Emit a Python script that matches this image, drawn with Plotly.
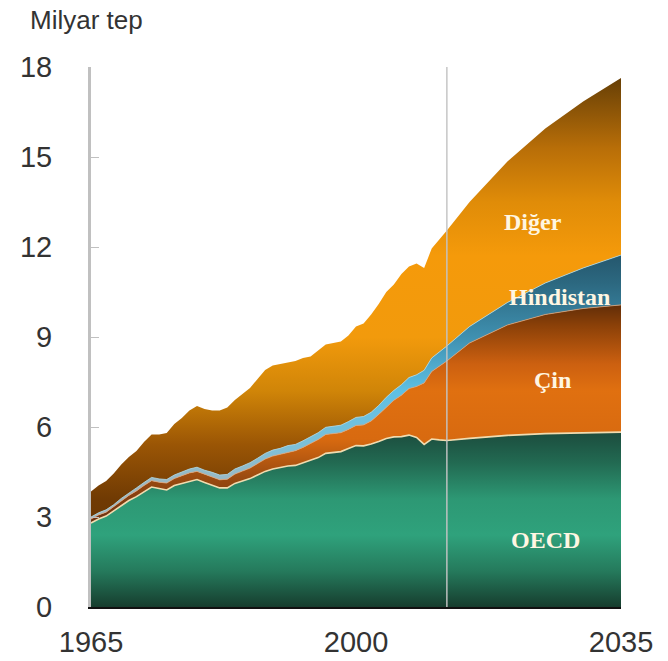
import plotly.graph_objects as go

# ---------------- data (Milyar tep) ----------------
years = list(range(1965, 2013)) + [2015, 2020, 2025, 2030, 2035]

oecd = [2.80, 2.93, 3.03, 3.20, 3.38, 3.55, 3.68, 3.85, 4.00, 3.95,
        3.90, 4.05, 4.12, 4.20, 4.25, 4.15, 4.07, 3.97, 3.97, 4.12,
        4.20, 4.28, 4.40, 4.52, 4.60, 4.65, 4.70, 4.72, 4.80, 4.90,
        4.98, 5.12, 5.15, 5.18, 5.28, 5.38, 5.37, 5.43, 5.52, 5.62,
        5.67, 5.68, 5.73, 5.65, 5.42, 5.60, 5.57, 5.55,
        5.62, 5.72, 5.78, 5.81, 5.83]

cin = [0.13, 0.14, 0.13, 0.13, 0.15, 0.17, 0.19, 0.20, 0.21, 0.21,
       0.23, 0.23, 0.25, 0.27, 0.27, 0.27, 0.27, 0.27, 0.29, 0.31,
       0.33, 0.35, 0.38, 0.41, 0.43, 0.44, 0.47, 0.49, 0.52, 0.56,
       0.60, 0.63, 0.63, 0.63, 0.64, 0.67, 0.70, 0.77, 0.90, 1.05,
       1.22, 1.38, 1.55, 1.70, 2.05, 2.25, 2.45, 2.65,
       3.18, 3.68, 3.97, 4.14, 4.24]

hindistan = [0.07, 0.07, 0.08, 0.08, 0.09, 0.09, 0.10, 0.10, 0.11, 0.11,
             0.12, 0.12, 0.13, 0.13, 0.14, 0.14, 0.15, 0.16, 0.16, 0.17,
             0.17, 0.18, 0.18, 0.19, 0.20, 0.20, 0.21, 0.21, 0.22, 0.22,
             0.23, 0.24, 0.25, 0.25, 0.26, 0.27, 0.28, 0.29, 0.30, 0.32,
             0.33, 0.35, 0.37, 0.39, 0.42, 0.45, 0.48, 0.50,
             0.55, 0.75, 1.05, 1.35, 1.66]

dunya_toplam = [3.85, 4.05, 4.20, 4.45, 4.75, 5.00, 5.20, 5.50, 5.75, 5.75,
                5.80, 6.10, 6.30, 6.55, 6.70, 6.60, 6.55, 6.55, 6.65, 6.90,
                7.10, 7.30, 7.60, 7.90, 8.05, 8.10, 8.15, 8.20, 8.30, 8.35,
                8.55, 8.75, 8.80, 8.85, 9.05, 9.35, 9.45, 9.75, 10.10, 10.50,
                10.75, 11.10, 11.35, 11.45, 11.30, 11.95, 12.25, 12.55,
                13.50, 14.85, 15.95, 16.85, 17.63]

diger = [round(t - o - c - h, 3) for t, o, c, h in zip(dunya_toplam, oecd, cin, hindistan)]

y_ticks = [0, 3, 6, 9, 12, 15, 18]
x_ticks = [1965, 2000, 2035]
ayrim_yili = 2012

# ---------------- figure ----------------
fig = go.Figure()

def grad(stops):
    return dict(type="vertical", start=0, stop=18,
                colorscale=[[round(y / 18, 4), c] for y, c in stops])

fig.add_trace(go.Scatter(
    x=years, y=oecd, stackgroup="s", mode="lines",
    line=dict(color="#f0dcb0", width=1.6),
    fillgradient=grad([(0, "#163d2e"), (1.2, "#257a5c"), (2.4, "#2fa27c"),
                       (3.6, "#2d9874"), (4.8, "#226a52"), (5.9, "#1b4a3c"), (18, "#1b4a3c")]),
    hoverinfo="skip"))

fig.add_trace(go.Scatter(
    x=years, y=cin, stackgroup="s", mode="lines",
    line=dict(color="#e0a070", width=0.8),
    fillgradient=grad([(0, "#6a3010"), (2.8, "#6a3010"), (4.3, "#9a4a10"),
                       (5.6, "#d86a10"), (7.2, "#e07010"), (8.1, "#cc6010"),
                       (9.4, "#8a4008"), (10.2, "#5a2a08"), (18, "#5a2a08")]),
    hoverinfo="skip"))

fig.add_trace(go.Scatter(
    x=years, y=hindistan, stackgroup="s", mode="lines",
    line=dict(color="#a8d8e8", width=0.8),
    fillgradient=grad([(0, "#a0b8c0"), (4.0, "#a0b8c0"), (5.4, "#7cc0d8"),
                       (7.2, "#5ec0e4"), (9.0, "#3f90b0"), (10.8, "#2c6880"),
                       (11.8, "#24566c"), (18, "#24566c")]),
    hoverinfo="skip"))

fig.add_trace(go.Scatter(
    x=years, y=diger, stackgroup="s", mode="lines",
    line=dict(color="rgba(0,0,0,0)", width=0),
    fillgradient=grad([(0, "#5a3003"), (3.6, "#703a03"), (5.4, "#9a5505"),
                       (7.2, "#d08508"), (9.0, "#f29a0c"), (11.7, "#f59a0a"),
                       (13.5, "#e08c08"), (15.3, "#b86e08"), (18, "#5a3806")]),
    hoverinfo="skip"))

# vertical separator between history and projection
fig.add_shape(type="line", x0=ayrim_yili, x1=ayrim_yili, y0=0, y1=18,
              xref="x", yref="y", layer="above",
              line=dict(color="rgba(195,195,195,0.9)", width=1.6))

label_font = dict(family="Liberation Serif, Times New Roman, serif", size=24, color="#fff6e2")
labels = [("Diğer", 2023.4, 12.83), ("Hindistan", 2026.9, 10.33),
          ("Çin", 2026.0, 7.57), ("OECD", 2025.0, 2.23)]
for txt, lx, ly in labels:
    fig.add_annotation(x=lx, y=ly, xref="x", yref="y", text="<b>%s</b>" % txt,
                       showarrow=False, font=label_font)

fig.add_annotation(x=-0.119, y=1.087, xref="paper", yref="paper", text="Milyar tep",
                   showarrow=False, xanchor="left", yanchor="middle",
                   font=dict(family="Liberation Sans, Arial, sans-serif", size=26, color="#333333"))

fig.update_layout(
    width=668, height=661,
    margin=dict(l=91, r=47, t=67, b=54),
    paper_bgcolor="white", plot_bgcolor="white",
    showlegend=False,
    font=dict(family="Liberation Sans, Arial, sans-serif", color="#333333"),
    xaxis=dict(range=[1965, 2035], tickvals=x_ticks, ticktext=[str(v) for v in x_ticks],
               showgrid=False, zeroline=False, showline=True, linecolor="#111111", linewidth=2,
               ticks="", tickfont=dict(size=29, color="#333333"), ticklabelstandoff=8,
               automargin=False),
    yaxis=dict(range=[0, 18], tickvals=y_ticks, showgrid=False, zeroline=False,
               showline=True, linecolor="#c0c0c0", linewidth=3,
               ticks="inside", ticklen=8, tickcolor="#c0c0c0", tickwidth=1,
               tickfont=dict(size=29, color="#333333"), ticklabelstandoff=30,
               automargin=False),
)

fig.write_html("out.html")
